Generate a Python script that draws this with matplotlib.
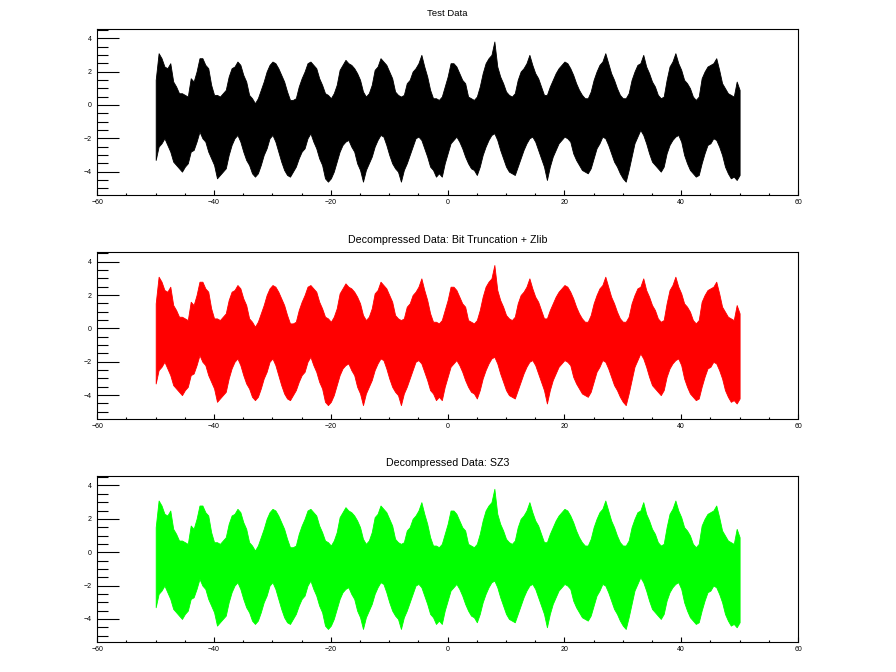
import numpy as np
import matplotlib.pyplot as plt
from matplotlib.ticker import MultipleLocator

plt.rcParams['font.family'] = ['Liberation Sans', 'DejaVu Sans']

upper = [
    1.5, 3.1, 2.8, 2.3, 2.2, 2.5, 1.4, 1.1, 0.7, 0.7,
    0.6, 0.5, 1.6, 1.4, 2.0, 2.8, 2.8, 2.4, 2.2, 1.2,
    0.6, 0.6, 0.5, 0.7, 0.9, 1.7, 2.2, 2.3, 2.6, 2.4,
    1.8, 1.4, 0.6, 0.4, 0.1, 0.4, 0.9, 1.4, 2.0, 2.4,
    2.6, 2.5, 2.2, 1.8, 1.4, 0.8, 0.3, 0.3, 0.4, 1.1,
    1.6, 2.0, 2.5, 2.6, 2.4, 2.2, 1.6, 1.2, 0.7, 0.6,
    0.4, 0.7, 1.2, 2.1, 2.4, 2.7, 2.5, 2.4, 2.2, 1.9,
    1.5, 0.8, 0.5, 0.7, 1.2, 2.1, 2.3, 2.8, 2.6, 2.4,
    2.0, 1.6, 0.8, 0.6, 0.5, 0.6, 1.3, 1.5, 2.0, 2.2,
    2.5, 3.0, 2.3, 1.7, 0.9, 0.4, 0.4, 0.3, 0.5, 1.1,
    1.7, 2.5, 2.5, 2.3, 1.9, 1.5, 1.3, 0.5, 0.4, 0.3,
    0.5, 1.1, 1.9, 2.5, 2.8, 3.0, 3.8, 2.3, 1.7, 1.3,
    0.8, 0.6, 0.5, 0.7, 1.5, 2.0, 2.2, 2.5, 3.0, 2.4,
    1.9, 1.6, 1.1, 0.6,
    0.6, 1.1, 1.5, 1.9, 2.2, 2.4, 2.6, 2.5, 2.2, 1.8,
    1.3, 0.9, 0.6, 0.4, 0.4, 0.8, 1.5, 2.0, 2.4, 2.6,
    3.1, 2.5, 1.9, 1.5, 1.0, 0.6, 0.4, 0.4, 0.7, 1.5,
    2.0, 2.4, 2.5, 3.0, 2.3, 1.9, 1.4, 1.1, 0.6, 0.4,
    0.5, 1.5, 2.3, 2.6, 3.1, 2.5, 2.1, 1.5, 1.3, 1.0,
    0.5, 0.3, 0.5, 1.6, 2.0, 2.3, 2.4, 2.5, 2.8, 2.1,
    1.3, 1.0, 0.7, 0.6, 0.5, 1.4, 0.9,
]
lower = [
    -3.3, -2.5, -2.3, -2.0, -2.4, -2.8, -3.4, -3.6, -3.8, -4.0,
    -3.7, -3.5, -2.8, -2.7, -2.2, -1.6, -2.0, -2.2, -2.8, -3.2,
    -3.6, -4.4, -4.2, -4.0, -3.8, -3.0, -2.4, -2.0, -1.8, -2.2,
    -2.8, -3.3, -3.6, -4.1, -4.3, -4.1, -3.6, -3.0, -2.6, -2.0,
    -1.8, -2.2, -2.8, -3.4, -3.9, -4.2, -4.3, -4.0, -3.7, -3.2,
    -2.8, -2.6, -2.0, -1.7, -2.2, -2.6, -3.2, -3.6, -4.4, -4.6,
    -4.4, -4.0, -3.4, -2.8, -2.4, -2.2, -2.1, -2.5, -2.8, -3.5,
    -3.9, -4.6, -3.9, -3.5, -3.1, -2.5, -2.1, -1.8, -1.9, -2.4,
    -3.0, -3.5, -3.8, -4.0, -4.6, -3.9, -3.5, -3.0, -2.5, -2.0,
    -1.9, -2.1, -2.6, -3.1, -3.7, -3.9, -4.3, -4.1, -4.3, -3.5,
    -2.9, -2.3, -2.1, -1.9, -2.2, -2.6, -3.1, -3.5, -3.8, -3.9,
    -4.2, -3.7, -3.0, -2.5, -2.1, -1.8, -1.7, -2.1, -2.7, -3.2,
    -3.7, -4.0, -4.1, -4.2, -3.7, -3.2, -2.7, -2.3, -2.0, -1.9,
    -2.2, -2.7, -3.2, -3.7,
    -4.5, -3.7, -3.1, -2.7, -2.3, -2.1, -1.9, -2.0, -2.2, -2.9,
    -3.3, -3.6, -3.9, -4.0, -4.1, -3.8, -3.2, -2.6, -2.3, -1.9,
    -2.0, -2.4, -2.9, -3.4, -3.7, -4.1, -4.4, -4.6, -3.9, -3.1,
    -2.3, -1.9, -1.5, -1.8, -2.3, -2.9, -3.4, -3.6, -3.8, -4.0,
    -3.7, -2.9, -2.4, -2.1, -1.9, -1.8, -2.2, -3.0, -3.5, -3.9,
    -4.1, -4.3, -4.2, -3.5, -2.9, -2.4, -2.3, -2.0, -2.1, -2.5,
    -3.0, -3.7, -4.1, -4.4, -4.3, -4.5, -4.2,
]
x = np.linspace(-50, 50, len(upper))

titles = ["Test Data", "Decompressed Data: Bit Truncation + Zlib", "Decompressed Data: SZ3"]
title_sizes = [6.8, 7.7, 7.7]
colors = ["black", "#ff0000", "#00ff00"]

fig = plt.figure(figsize=(8.96, 6.72), dpi=100)
W, H = 896, 672
left, right = 97.3, 798
tops = [29, 252.5, 476.3]
panel_h = 166
title_y = [14, 240, 463]

for i in range(3):
    ax = fig.add_axes([left / W, 1 - (tops[i] + panel_h) / H, (right - left) / W, panel_h / H])
    ax.fill_between(x, lower, upper, color=colors[i], linewidth=0.6, edgecolor=colors[i])
    ax.set_xlim(-60, 60)
    ax.set_ylim(-5.4, 4.55)
    ax.xaxis.set_major_locator(MultipleLocator(20))
    ax.xaxis.set_minor_locator(MultipleLocator(5))
    ax.yaxis.set_major_locator(MultipleLocator(2))
    ax.yaxis.set_minor_locator(MultipleLocator(0.5))
    ax.tick_params(axis='both', which='both', direction='in', width=0.8,
                   labelsize=5, top=False, right=False)
    ax.tick_params(axis='y', which='major', length=15.6, pad=4)
    ax.tick_params(axis='y', which='minor', length=7.7)
    ax.tick_params(axis='x', which='major', length=3.6, pad=3)
    ax.tick_params(axis='x', which='minor', length=1.8)
    for s in ax.spines.values():
        s.set_linewidth(0.8)
    fig.text(0.5 * (left + right) / W, 1 - title_y[i] / H, titles[i],
             ha='center', va='center', fontsize=title_sizes[i])

fig.savefig("out.png", dpi=100)
